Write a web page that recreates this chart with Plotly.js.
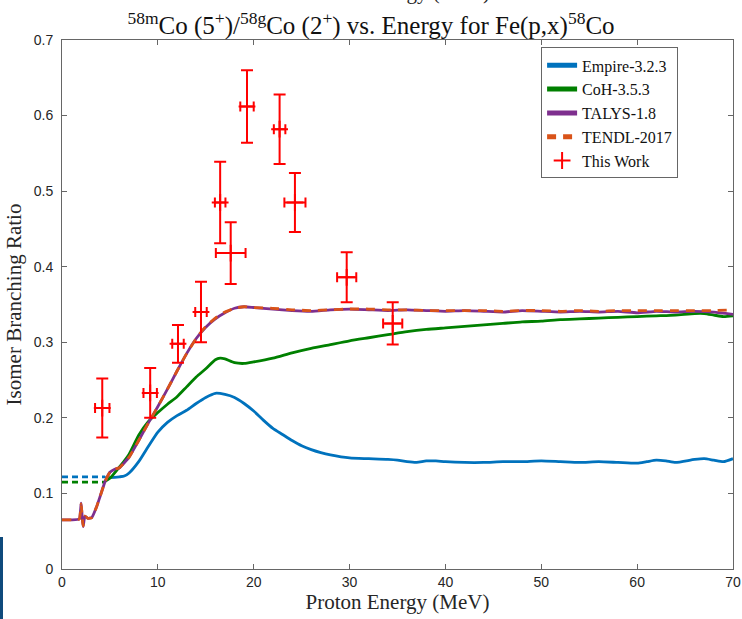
<!DOCTYPE html>
<html>
<head>
<meta charset="utf-8">
<script src="https://cdn.plot.ly/plotly-3.0.1.min.js"></script>
<style>
html,body{margin:0;padding:0;background:#fff;}
#chart{width:742px;height:619px;}
#bar{position:absolute;left:0;top:537px;width:3px;height:82px;background:#0f4a7c;}
</style>
</head>
<body>
<div id="chart"></div>
<div id="bar"></div>
<script>
// ---- Data ----
const talysE = [0, 1, 1.8, 2.0, 2.1, 2.2, 2.4, 2.7, 3.1, 3.6, 4.0, 4.5, 5.0, 5.5, 6.0, 7.0, 8.0, 9.0, 10, 11, 12, 13, 14, 15, 16, 17, 18, 19, 20, 22, 24, 26, 28, 30, 32, 34, 36, 38, 40, 42, 44, 46, 48, 50, 52, 54, 56, 58, 60, 62, 64, 66, 68, 70];
const talysR = [0.065, 0.065, 0.066, 0.087, 0.070, 0.056, 0.070, 0.067, 0.068, 0.082, 0.097, 0.116, 0.128, 0.132, 0.134, 0.148, 0.170, 0.193, 0.215, 0.238, 0.262, 0.285, 0.305, 0.320, 0.331, 0.339, 0.345, 0.347, 0.346, 0.344, 0.342, 0.341, 0.343, 0.344, 0.343, 0.342, 0.343, 0.342, 0.341, 0.342, 0.341, 0.340, 0.342, 0.341, 0.340, 0.341, 0.340, 0.341, 0.339, 0.341, 0.340, 0.341, 0.340, 0.337];
const tendlE = [0, 1, 1.8, 2.0, 2.1, 2.2, 2.4, 2.7, 3.1, 3.6, 4.0, 4.5, 5.0, 5.5, 6.0, 7.0, 8.0, 9.0, 10, 11, 12, 13, 14, 15, 16, 17, 18, 19, 20, 22, 24, 26, 28, 30, 32, 34, 36, 38, 40, 42, 44, 46, 48, 50, 52, 54, 56, 58, 60, 62, 64, 66, 68, 70];
const tendlR = [0.065, 0.065, 0.066, 0.086, 0.070, 0.057, 0.070, 0.067, 0.068, 0.082, 0.097, 0.116, 0.128, 0.132, 0.134, 0.148, 0.170, 0.193, 0.215, 0.238, 0.262, 0.285, 0.305, 0.321, 0.332, 0.340, 0.345, 0.347, 0.346, 0.345, 0.343, 0.342, 0.343, 0.344, 0.344, 0.343, 0.343, 0.342, 0.342, 0.342, 0.342, 0.341, 0.342, 0.342, 0.341, 0.342, 0.341, 0.342, 0.342, 0.342, 0.342, 0.342, 0.342, 0.343];

const empireLowE = [0, 4.5];
const empireLowR = [0.122, 0.122];
const empireE = [4.5, 5, 6, 6.5, 7, 8, 9, 10, 11, 12, 13, 14, 15, 16, 17, 18, 19, 20, 21, 22, 23, 24, 25, 26, 27, 28, 30, 32, 34, 35, 36, 37, 38, 39, 40, 42, 44, 46, 48, 50, 52, 54, 56, 58, 60, 61, 62, 63, 64, 66, 67, 68, 69, 70];
const empireR = [0.121, 0.121, 0.122, 0.123, 0.127, 0.142, 0.162, 0.181, 0.194, 0.203, 0.210, 0.219, 0.227, 0.2325, 0.231, 0.227, 0.219, 0.209, 0.197, 0.186, 0.178, 0.170, 0.163, 0.158, 0.154, 0.151, 0.147, 0.146, 0.145, 0.144, 0.142, 0.141, 0.143, 0.143, 0.142, 0.141, 0.141, 0.142, 0.142, 0.143, 0.142, 0.141, 0.142, 0.141, 0.140, 0.142, 0.144, 0.143, 0.141, 0.145, 0.146, 0.144, 0.142, 0.146];

const cohLowE = [0, 4.5];
const cohLowR = [0.115, 0.115];
const cohE = [4.5, 5, 6, 7, 8, 9, 10, 11, 12, 13, 14, 15, 16, 16.5, 17, 18, 19, 20, 22, 24, 26, 28, 30, 32, 34, 36, 38, 40, 42, 44, 46, 48, 50, 52, 54, 56, 58, 60, 62, 64, 66, 67, 68, 69, 70];
const cohR = [0.116, 0.120, 0.135, 0.152, 0.177, 0.195, 0.207, 0.218, 0.228, 0.241, 0.254, 0.265, 0.277, 0.279, 0.278, 0.273, 0.272, 0.274, 0.279, 0.286, 0.292, 0.297, 0.302, 0.306, 0.310, 0.314, 0.317, 0.319, 0.321, 0.323, 0.325, 0.327, 0.328, 0.330, 0.331, 0.332, 0.333, 0.334, 0.335, 0.336, 0.338, 0.338, 0.336, 0.334, 0.335];

const workE    = [4.2, 9.2, 12.1, 14.5, 16.5, 17.6, 19.3, 22.7, 24.3, 29.7, 34.5];
const workEerr = [0.75, 0.7, 0.6, 0.6, 0.55, 1.55, 0.7, 0.6, 1.1, 1.0, 1.0];
const workR    = [0.213, 0.233, 0.298, 0.340, 0.485, 0.418, 0.612, 0.582, 0.485, 0.386, 0.325];
const workRerr = [0.039, 0.033, 0.025, 0.040, 0.054, 0.041, 0.048, 0.046, 0.039, 0.033, 0.028];

// ---- Styles ----
const cBlue = '#0072BD', cGreen = '#008000', cPurple = '#7E2F8E', cOrange = '#D95319', cRed = '#FF0000';
const serif = '"Liberation Serif", "DejaVu Serif", serif';
const sans = '"Liberation Sans", Arial, sans-serif';
const lw = 2.8;

const traces = [
  {x: empireLowE, y: empireLowR, mode: 'lines', line: {color: cBlue, width: lw, dash: '6px,4px'}, showlegend: false, hoverinfo: 'skip'},
  {x: cohLowE, y: cohLowR, mode: 'lines', line: {color: cGreen, width: lw, dash: '6px,4px'}, showlegend: false, hoverinfo: 'skip'},
  {x: empireE, y: empireR, mode: 'lines', name: 'Empire-3.2.3', line: {color: cBlue, width: lw, shape: 'spline', smoothing: 0.6}},
  {x: cohE, y: cohR, mode: 'lines', name: 'CoH-3.5.3', line: {color: cGreen, width: lw, shape: 'spline', smoothing: 0.6}},
  {x: talysE, y: talysR, mode: 'lines', name: 'TALYS-1.8', line: {color: cPurple, width: lw, shape: 'spline', smoothing: 0.4}},
  {x: tendlE, y: tendlR, mode: 'lines', name: 'TENDL-2017', line: {color: cOrange, width: lw, dash: '9px,7px', shape: 'spline', smoothing: 0.4}},
  {x: workE, y: workR, mode: 'markers', name: 'This Work',
   marker: {symbol: 'cross-thin-open', size: 12, color: cRed, line: {color: cRed, width: 2}},
   error_x: {type: 'data', array: workEerr, visible: true, color: cRed, thickness: 2, width: 5},
   error_y: {type: 'data', array: workRerr, visible: true, color: cRed, thickness: 2, width: 6}}
];

const layout = {
  width: 742, height: 619,
  margin: {l: 62, r: 9, t: 40, b: 50},
  paper_bgcolor: '#fff', plot_bgcolor: '#fff',
  title: {text: '<sup>58m</sup>Co (5<sup>+</sup>)/<sup>58g</sup>Co (2<sup>+</sup>) vs. Energy for Fe(p,x)<sup>58</sup>Co',
          font: {family: serif, size: 25, color: '#111'}, x: 0.5, xanchor: 'center', y: 0.959, yanchor: 'middle'},
  xaxis: {range: [0, 70], dtick: 10, tick0: 0, ticks: 'inside', ticklen: 5, tickcolor: '#666',
          showline: true, linecolor: '#666', linewidth: 1, mirror: 'ticks', showgrid: false, zeroline: false,
          tickfont: {family: sans, size: 14, color: '#262626'},
          title: {text: 'Proton Energy (MeV)', font: {family: serif, size: 21, color: '#262626'}, standoff: 3}},
  yaxis: {range: [0, 0.7], dtick: 0.1, tick0: 0, ticks: 'inside', ticklen: 5, tickcolor: '#666',
          showline: true, linecolor: '#666', linewidth: 1, mirror: 'ticks', showgrid: false, zeroline: false,
          ticklabelstandoff: 5,
          tickfont: {family: sans, size: 14, color: '#262626'},
          title: {text: 'Isomer Branching Ratio', font: {family: serif, size: 21, color: '#262626'}, standoff: 6}},
  legend: {x: 0.714, y: 0.986, xanchor: 'left', yanchor: 'top', bgcolor: '#fff', bordercolor: '#666', borderwidth: 1,
           font: {family: serif, size: 16, color: '#111'}, tracegroupgap: 0, itemsizing: 'constant'},
  annotations: [
    {text: 'Proton Energy (MeV)', xref: 'paper', yref: 'paper', x: 0.5, y: 1.09, xanchor: 'center', yanchor: 'middle',
     showarrow: false, font: {family: serif, size: 21, color: '#262626'}}
  ],
  showlegend: true
};

Plotly.newPlot('chart', traces, layout, {displayModeBar: false, staticPlot: true});
</script>
</body>
</html>
